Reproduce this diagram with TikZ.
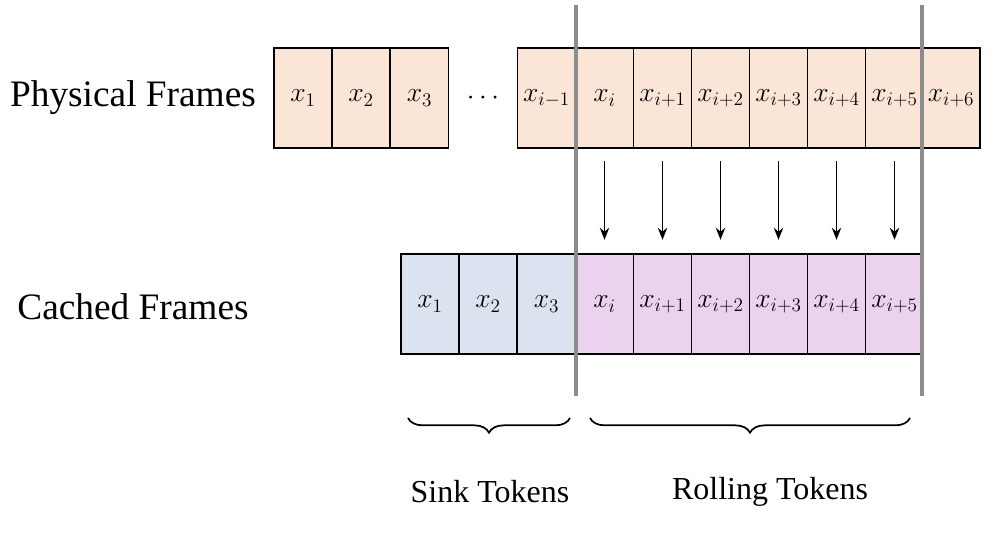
\documentclass[tikz,border=0pt]{standalone}
\usepackage{fontspec}
\setmainfont{Liberation Serif}
\usetikzlibrary{decorations.pathreplacing,arrows.meta}
\definecolor{phys}{HTML}{FBE5D6}
\definecolor{sink}{HTML}{DCE3F0}
\definecolor{roll}{HTML}{EBD3F0}
\begin{document}
\begin{tikzpicture}[x=0.75pt,y=-0.75pt,
  cell/.style={draw=black,line width=1.3pt,minimum width=43.5pt,minimum height=75pt,inner sep=0pt,font=\fontsize{20}{20}\selectfont},
  lab/.style={font=\fontsize{28}{28}\selectfont},
  blab/.style={font=\fontsize{24}{24}\selectfont},
  sep/.style={line width=3.5pt,draw=black!45},
  arr/.style={-{Stealth[length=9pt,width=7pt]},line width=1.4pt},
  br/.style={decorate,decoration={brace,mirror,amplitude=11pt},line width=1.3pt}]
\useasboundingbox (0,0) rectangle (996,532);
% physical row
\foreach \n/\cx/\t in {p1/303/x_1,p2/361/x_2,p3/419.5/x_3,pim1/546.5/x_{i-1},p0/604.5/x_i,pa/662.5/x_{i+1},pb/720.5/x_{i+2},pc/778.5/x_{i+3},pd/836.5/x_{i+4},pe/894.5/x_{i+5},pf/951/x_{i+6}}
  \node[cell,fill=phys] (\n) at (\cx,98) {$\t$};
\node[font=\fontsize{22}{22}\selectfont] (dots) at (483,98) {$\cdots$};
% cached row
\foreach \n/\cx/\t in {c1/430/x_1,c2/488/x_2,c3/546.5/x_3}
  \node[cell,fill=sink] (\n) at (\cx,304) {$\t$};
\foreach \n/\cx/\t in {c0/604.5/x_i,ca/662.5/x_{i+1},cb/720.5/x_{i+2},cc/778.5/x_{i+3},cd/836.5/x_{i+4},ce/894.5/x_{i+5}}
  \node[cell,fill=roll] (\n) at (\cx,304) {$\t$};
% arrows
\foreach \a/\b in {p0/c0,pa/ca,pb/cb,pc/cc,pd/cd,pe/ce}
  \draw[arr] ([yshift=-9pt]\a.south) -- ([yshift=10pt]\b.north);
% separators
\coordinate (s1t) at (576,5); \coordinate (s1b) at (576,396);
\coordinate (s2t) at (922,5); \coordinate (s2b) at (922,396);
\draw[sep] (s1t) -- (s1b);
\draw[sep] (s2t) -- (s2b);
% labels
\node[lab] (pl) at (133,98) {Physical Frames};
\node[lab] (cl) at (133,307) {Cached Frames};
% braces
\coordinate (b1a) at (408,418); \coordinate (b1b) at (570,418);
\coordinate (b2a) at (590,418); \coordinate (b2b) at (910,418);
\draw[br] (b1a) -- (b1b);
\draw[br] (b2a) -- (b2b);
\node[blab] (sk) at (490,492) {Sink Tokens};
\node[blab] (rt) at (770,492) {Rolling Tokens};
\end{tikzpicture}
\end{document}
